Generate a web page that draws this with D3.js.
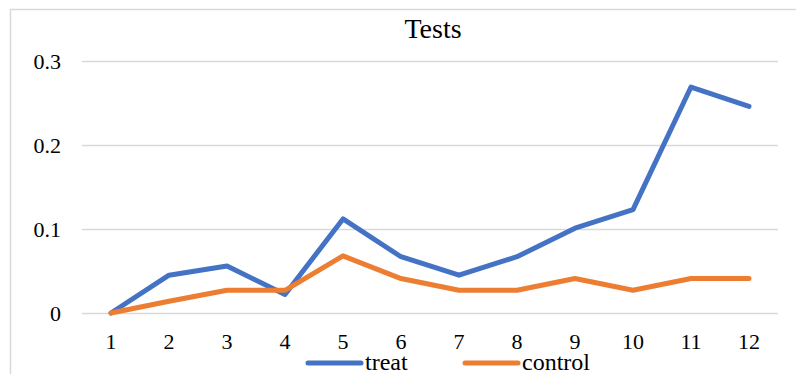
<!DOCTYPE html>
<html>
<head>
<meta charset="utf-8">
<script src="https://cdn.jsdelivr.net/npm/d3@7"></script>
<style>
  body { margin: 0; background: #fff; }
  svg text { font-family: "Liberation Serif", "Times New Roman", serif !important; fill: #000; }
</style>
</head>
<body>
<div id="chart"></div>
<script>
var months = [1, 2, 3, 4, 5, 6, 7, 8, 9, 10, 11, 12];
var treat = [0, 0.045, 0.056, 0.022, 0.112, 0.067, 0.045, 0.067, 0.101, 0.123, 0.269, 0.246];
var control = [0, 0.014, 0.027, 0.027, 0.068, 0.041, 0.027, 0.027, 0.041, 0.027, 0.041, 0.041];
var yTicks = [0, 0.1, 0.2, 0.3];
var seriesNames = ["treat", "control"];
var colors = ["#4472C4", "#ED7D31"];

var W = 796, H = 374;
var margin = {top: 61, right: 18, bottom: 61, left: 82};
var serif = "Liberation Serif, Times New Roman, serif";

var svg = d3.select("#chart")
  .append("svg")
    .attr("width", W)
    .attr("height", H)
    .attr("font-family", serif);

// chart frame (only top and left edges show in the crop)
svg.append("line")
  .attr("x1", 10).attr("x2", W).attr("y1", 9.5).attr("y2", 9.5)
  .attr("stroke", "#D9D9D9").attr("stroke-width", 1.5);
svg.append("line")
  .attr("x1", 10.5).attr("x2", 10.5).attr("y1", 9).attr("y2", H)
  .attr("stroke", "#D9D9D9").attr("stroke-width", 1.5);

var x = d3.scaleBand()
  .domain(months)
  .range([margin.left, W - margin.right]);

var y = d3.scaleLinear()
  .domain([0, 0.3])
  .range([H - margin.bottom, margin.top]);

// y axis + gridlines
var yAxis = svg.append("g")
  .attr("transform", "translate(" + margin.left + ",0)")
  .call(d3.axisLeft(y)
    .tickValues(yTicks)
    .tickSize(-(W - margin.right - margin.left))
    .tickPadding(21)
    .tickFormat(function(d) { return d === 0 ? "0" : d3.format(".1f")(d); }));
yAxis.attr("font-family", serif).attr("font-size", 22);
yAxis.select(".domain").remove();
yAxis.selectAll(".tick line").attr("stroke", "#D9D9D9").attr("stroke-width", 1.5);

// x axis
var xAxis = svg.append("g")
  .attr("transform", "translate(0," + y(0) + ")")
  .call(d3.axisBottom(x).tickSize(0).tickPadding(20));
xAxis.attr("font-family", serif).attr("font-size", 22);
xAxis.select(".domain").remove();

var line = d3.line()
  .x(function(d, i) { return x(months[i]) + x.bandwidth() / 2; })
  .y(function(d) { return y(d); });

[treat, control].forEach(function(s, i) {
  svg.append("path")
    .datum(s)
    .attr("fill", "none")
    .attr("stroke", colors[i])
    .attr("stroke-width", 5)
    .attr("stroke-linejoin", "round")
    .attr("stroke-linecap", "round")
    .attr("d", line);
});

// title
svg.append("text")
  .attr("x", 433)
  .attr("y", 38)
  .attr("text-anchor", "middle")
  .attr("font-size", 28)
  .text("Tests");

// legend
var legendX = [308, 465];
var legend = svg.selectAll(".legend")
  .data(seriesNames)
  .enter().append("g")
    .attr("transform", function(d, i) { return "translate(" + legendX[i] + ",363)"; });
legend.append("line")
  .attr("x1", 0).attr("x2", 53)
  .attr("stroke", function(d, i) { return colors[i]; })
  .attr("stroke-width", 5)
  .attr("stroke-linecap", "round");
legend.append("text")
  .attr("x", 57)
  .attr("y", 7)
  .attr("font-size", 24)
  .text(function(d) { return d; });
</script>
</body>
</html>
